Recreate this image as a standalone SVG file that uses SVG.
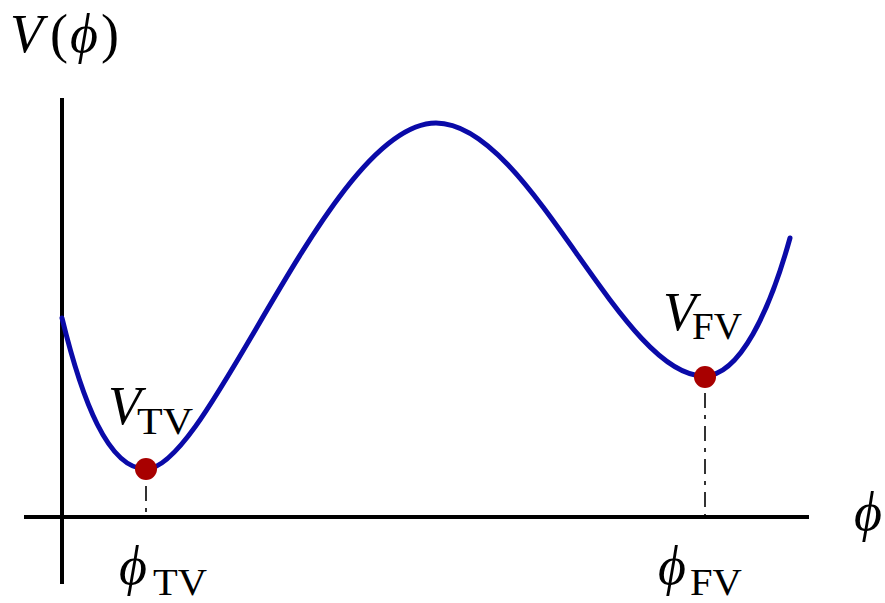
<svg xmlns="http://www.w3.org/2000/svg" width="885" height="603" viewBox="0 0 885 603">
<style>
.ax{stroke:#000;stroke-width:4;fill:none}
.curve{stroke:#0a0aa8;stroke-width:5;fill:none;stroke-linecap:round}
.guide{stroke:#000;stroke-width:1.6;stroke-dasharray:15 7 4 7;fill:none}
.dot{fill:#a80000}
.it{font-family:"Liberation Serif","DejaVu Serif",serif;font-style:italic;font-size:54px;fill:#000}
.rm{font-family:"Liberation Serif","DejaVu Serif",serif;font-size:54px;fill:#000}
.sub{font-family:"Liberation Serif","DejaVu Serif",serif;font-size:37px;fill:#000}
</style>
<rect width="885" height="603" fill="#fff"/>
<g id="axes">
<line class="ax" x1="62" y1="98" x2="62" y2="584"/>
<line class="ax" x1="24" y1="517" x2="809" y2="517"/>
</g>
<g id="connectors">
<line class="guide" x1="146" y1="486" x2="146" y2="517"/>
<line class="guide" x1="705" y1="393" x2="705" y2="517"/>
</g>
<g id="potential">
<path class="curve" d="M62,318 C82,400 108,469 146,469 C210,469 330,123 436,123 C530,123 620,376 704,376 C740,376 770,310 790,238"/>
</g>
<g id="tv">
<circle class="dot" cx="146" cy="469" r="11"/>
<text x="108" y="424" class="it">V</text>
<text x="137" y="434" class="sub" textLength="56" lengthAdjust="spacingAndGlyphs">TV</text>
</g>
<g id="fv">
<circle class="dot" cx="705" cy="377" r="11"/>
<text x="663" y="330" class="it">V</text>
<text x="692" y="339" class="sub" textLength="50" lengthAdjust="spacingAndGlyphs">FV</text>
</g>
<g id="ylabel">
<text x="10" y="52" class="it">V</text>
<text x="50" y="52" class="rm">(</text>
<text x="70" y="52" class="it">ϕ</text>
<text x="101" y="52" class="rm">)</text>
</g>
<g id="xlabel">
<text x="854" y="530" class="it">ϕ</text>
</g>
<g id="phitv">
<text x="119" y="584" class="it">ϕ</text>
<text x="153" y="595" class="sub" textLength="54" lengthAdjust="spacingAndGlyphs">TV</text>
</g>
<g id="phifv">
<text x="658" y="584" class="it">ϕ</text>
<text x="690" y="595" class="sub" textLength="52" lengthAdjust="spacingAndGlyphs">FV</text>
</g>
</svg>
